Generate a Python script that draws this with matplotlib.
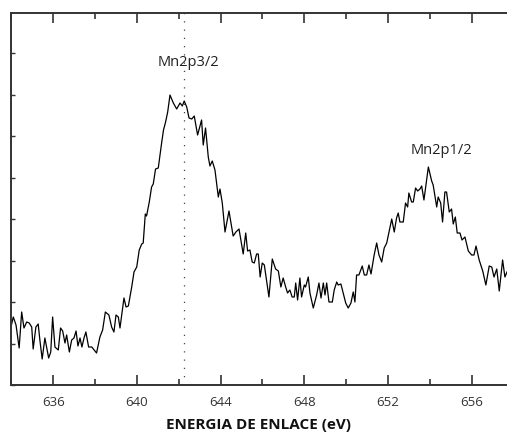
import numpy as np
import matplotlib
matplotlib.use("Agg")
import matplotlib.pyplot as plt
from matplotlib.ticker import MultipleLocator

# Mn 2p XPS spectrum: binding energy (eV) and intensity (a.u.)
energy = [
    634.00, 634.09, 634.22, 634.37, 634.49, 634.60, 634.73, 634.85, 634.97, 635.04,
    635.17, 635.28, 635.36, 635.47, 635.60, 635.78, 635.88, 635.97, 636.08, 636.24,
    636.35, 636.45, 636.56, 636.64, 636.77, 636.88, 636.99, 637.09, 637.18, 637.28,
    637.37, 637.47, 637.56, 637.69, 637.84, 638.07, 638.23, 638.36, 638.49, 638.66,
    638.79, 638.90, 639.00, 639.11, 639.19, 639.38, 639.48, 639.59, 639.75, 639.86,
    639.99, 640.11, 640.23, 640.30, 640.40, 640.46, 640.59, 640.70, 640.78, 640.89,
    641.02, 641.18, 641.27, 641.37, 641.47, 641.58, 641.74, 641.90, 642.06, 642.17,
    642.26, 642.38, 642.49, 642.62, 642.74, 642.90, 643.09, 643.17, 643.28, 643.41,
    643.49, 643.60, 643.73, 643.89, 643.97, 644.08, 644.21, 644.40, 644.60, 644.73,
    644.88, 645.08, 645.20, 645.29, 645.40, 645.51, 645.61, 645.72, 645.80, 645.89,
    645.99, 646.09, 646.31, 646.47, 646.63, 646.76, 646.88, 646.99, 647.11, 647.20,
    647.31, 647.42, 647.52, 647.59, 647.68, 647.79, 647.87, 648.00, 648.06, 648.19,
    648.27, 648.43, 648.59, 648.70, 648.80, 648.91, 648.99, 649.07, 649.18, 649.34,
    649.43, 649.55, 649.62, 649.75, 649.86, 649.98, 650.10, 650.23, 650.34, 650.42,
    650.50, 650.61, 650.77, 650.87, 650.98, 651.09, 651.19, 651.34, 651.46, 651.57,
    651.70, 651.82, 651.94, 652.05, 652.18, 652.30, 652.41, 652.49, 652.57, 652.73,
    652.84, 652.94, 653.00, 653.13, 653.21, 653.32, 653.42, 653.53, 653.61, 653.72,
    653.93, 654.09, 654.16, 654.25, 654.33, 654.40, 654.52, 654.61, 654.72, 654.80,
    654.93, 655.04, 655.12, 655.22, 655.31, 655.44, 655.54, 655.68, 655.84, 656.00,
    656.11, 656.21, 656.36, 656.53, 656.68, 656.84, 656.96, 657.07, 657.20, 657.32,
    657.48, 657.59, 657.69,
]
intensity = [
    60, 68, 60, 37, 73, 57, 63, 62, 58, 36,
    58, 61, 45, 26, 47, 27, 33, 68, 38, 35,
    57, 54, 42, 50, 33, 45, 47, 54, 39, 47,
    38, 47, 53, 38, 38, 32, 48, 55, 73, 70,
    58, 53, 70, 68, 57, 87, 78, 79, 98, 113,
    118, 135, 141, 142, 171, 169, 183, 198, 201, 216,
    217, 242, 255, 263, 273, 290, 282, 276, 282, 279,
    284, 278, 267, 266, 269, 250, 265, 240, 257, 228,
    219, 224, 215, 188, 196, 182, 153, 174, 149, 153,
    156, 131, 152, 134, 135, 123, 122, 131, 131, 108,
    122, 120, 88, 126, 116, 114, 98, 107, 98, 92,
    95, 88, 88, 102, 85, 107, 88, 100, 98, 108,
    92, 77, 90, 102, 87, 102, 90, 102, 83, 83,
    95, 103, 100, 101, 92, 82, 77, 82, 93, 83,
    110, 110, 119, 110, 110, 120, 111, 130, 142, 130,
    123, 137, 142, 153, 166, 153, 167, 172, 163, 163,
    182, 178, 192, 183, 183, 197, 194, 196, 199, 185,
    218, 204, 200, 188, 178, 188, 182, 163, 193, 193,
    173, 176, 161, 168, 152, 152, 145, 148, 134, 130,
    130, 139, 125, 114, 100, 119, 118, 108, 116, 94,
    125, 108, 113,
]

peak_labels = ["Mn2p3/2", "Mn2p1/2"]
peak_label_pos = [(642.45, 322), (654.55, 235)]
ref_energy = 642.24
xticks = [636, 640, 644, 648, 652, 656]
xlabel = "ENERGIA DE ENLACE (eV)"

plt.rcParams["font.family"] = ["Open Sans", "DejaVu Sans"]

fig = plt.figure(figsize=(5.07, 4.34), dpi=100)
ax = fig.add_axes([11 / 507, 49 / 434, 1 - 11 / 507, 372 / 434])

ax.plot(energy, intensity, color="black", lw=0.9)
ax.axvline(ref_energy, color="#444444", lw=0.9, ls=(0, (1.0, 5.6)))

for text, (x, y) in zip(peak_labels, peak_label_pos):
    ax.text(x, y, text, ha="center", va="center", fontsize=10.5, color="#222222")

ax.set_xlim(633.98, 657.69)
ax.set_ylim(0, 372)

ax.set_xticks(xticks)
ax.xaxis.set_minor_locator(MultipleLocator(2))
ax.set_yticks(np.arange(0, 372, 41.5))
ax.set_yticklabels([])

spine_color = "#333333"
for side in ["left", "top", "bottom"]:
    ax.spines[side].set_color(spine_color)
    ax.spines[side].set_linewidth(1.4)
ax.spines["right"].set_visible(False)

ax.tick_params(axis="x", which="major", direction="in", length=7, width=1.2,
               color=spine_color, labelsize=9.5, labelcolor="#333333", pad=8,
               top=True)
ax.tick_params(axis="x", which="minor", direction="in", length=4, width=1.2,
               color=spine_color, top=True)
ax.tick_params(axis="y", which="major", direction="in", length=3, width=1.0,
               color=spine_color)

ax.set_xlabel(xlabel, fontsize=11, fontweight="bold", color="#111111", labelpad=6.5)

fig.savefig("out.png", dpi=100)
